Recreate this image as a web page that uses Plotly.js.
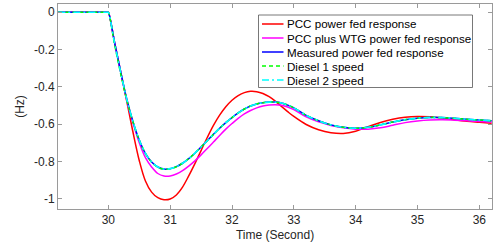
<!DOCTYPE html>
<html>
<head>
<meta charset="utf-8">
<script src="https://cdn.plot.ly/plotly-3.0.1.min.js"></script>
<style>html,body{margin:0;padding:0;background:#fff}#chart{width:493px;height:251px}</style>
</head>
<body>
<div id="chart"></div>
<script>
// ---- data ----
const time = [29.19, 29.99, 30.0, 30.1, 30.2, 30.3, 30.4, 30.5, 30.6, 30.7, 30.8, 30.9, 31.0, 31.1, 31.2, 31.3, 31.4, 31.5, 31.6, 31.7, 31.8, 31.9, 32.0, 32.1, 32.2, 32.3, 32.4, 32.5, 32.6, 32.7, 32.8, 32.9, 33.0, 33.2, 33.4, 33.6, 33.8, 34.0, 34.2, 34.4, 34.6, 34.8, 35.0, 35.2, 35.4, 35.6, 35.8, 36.0, 36.2];
const pccResponse = [0, 0, 0, -0.16, -0.32, -0.48, -0.645, -0.795, -0.905, -0.965, -0.995, -1.006, -1.002, -0.98, -0.938, -0.878, -0.812, -0.742, -0.672, -0.607, -0.552, -0.507, -0.472, -0.447, -0.431, -0.424, -0.426, -0.436, -0.453, -0.477, -0.505, -0.533, -0.559, -0.602, -0.63, -0.646, -0.65, -0.638, -0.614, -0.591, -0.574, -0.563, -0.559, -0.561, -0.567, -0.576, -0.584, -0.59, -0.596];
const pccWtgResponse = [0, 0, 0, -0.16, -0.32, -0.475, -0.595, -0.70, -0.78, -0.83, -0.865, -0.878, -0.878, -0.868, -0.85, -0.825, -0.797, -0.765, -0.731, -0.696, -0.661, -0.627, -0.597, -0.569, -0.545, -0.527, -0.513, -0.503, -0.498, -0.496, -0.499, -0.508, -0.522, -0.561, -0.588, -0.607, -0.62, -0.627, -0.627, -0.62, -0.606, -0.592, -0.583, -0.578, -0.577, -0.579, -0.582, -0.586, -0.589];
const measuredResponse = [0, 0, 0, -0.16, -0.32, -0.468, -0.588, -0.685, -0.757, -0.803, -0.83, -0.841, -0.839, -0.828, -0.81, -0.785, -0.756, -0.723, -0.689, -0.655, -0.622, -0.592, -0.565, -0.54, -0.519, -0.503, -0.492, -0.485, -0.482, -0.482, -0.487, -0.498, -0.513, -0.553, -0.582, -0.604, -0.617, -0.622, -0.617, -0.604, -0.589, -0.576, -0.568, -0.564, -0.565, -0.569, -0.574, -0.578, -0.582];
const diesel1Speed = [0, 0, 0, -0.17, -0.33, -0.472, -0.59, -0.686, -0.758, -0.804, -0.831, -0.842, -0.84, -0.829, -0.81, -0.785, -0.756, -0.723, -0.689, -0.655, -0.622, -0.592, -0.565, -0.54, -0.519, -0.503, -0.492, -0.485, -0.482, -0.482, -0.487, -0.498, -0.513, -0.553, -0.582, -0.604, -0.617, -0.622, -0.617, -0.604, -0.589, -0.576, -0.568, -0.564, -0.565, -0.569, -0.574, -0.578, -0.582];
const diesel2Speed = [0, 0, 0, -0.163, -0.322, -0.469, -0.588, -0.685, -0.757, -0.803, -0.83, -0.841, -0.839, -0.828, -0.81, -0.785, -0.756, -0.723, -0.689, -0.655, -0.622, -0.592, -0.565, -0.54, -0.519, -0.503, -0.492, -0.485, -0.482, -0.482, -0.487, -0.498, -0.513, -0.553, -0.582, -0.604, -0.617, -0.622, -0.617, -0.604, -0.589, -0.576, -0.568, -0.564, -0.565, -0.569, -0.574, -0.578, -0.582];
const seriesNames = ["PCC power fed response", "PCC plus WTG power fed response", "Measured power fed response", "Diesel 1 speed", "Diesel 2 speed"];
const xTickVals = [30, 31, 32, 33, 34, 35, 36];
const xTickText = ["30", "31", "32", "33", "34", "35", "36"];
const yTickVals = [0, -0.2, -0.4, -0.6, -0.8, -1];
const yTickText = ["0", "-0.2", "-0.4", "-0.6", "-0.8", "-1"];

// ---- styles ----
const seriesY = [pccResponse, pccWtgResponse, measuredResponse, diesel1Speed, diesel2Speed];
const colors = ["#ff0000", "#ff00ff", "#0000ff", "#00ff00", "#00ffff"];
const dashes = ["solid", "solid", "solid", "4px,3px", "7px,3px,2px,3px"];
const widths = [1.5, 1.5, 1.5, 1.5, 1.6];
const FONT = "Liberation Sans, Arial, Helvetica, sans-serif";

const traces = seriesY.map((y, i) => ({
  type: "scatter", mode: "lines", x: time, y: y, name: seriesNames[i],
  line: {color: colors[i], width: widths[i], dash: dashes[i], shape: "spline", smoothing: 1},
  showlegend: false, hoverinfo: "skip"
}));

// plot area in px: left 58, right 492, top 4, bottom 209
const L = 58, R = 492, T = 4, B = 209;
const px = v => (v - L) / (R - L);
const py = v => (B - v) / (B - T);

const shapes = [{
  type: "rect", xref: "paper", yref: "paper", layer: "above",
  x0: px(258.5), x1: px(472.5), y0: py(87.5), y1: py(15),
  fillcolor: "#ffffff", line: {color: "#555555", width: 0.8}
}];
const annotations = [];
const entryY = [24, 38, 52, 66, 80];
seriesNames.forEach((n, i) => {
  shapes.push({
    type: "line", xref: "paper", yref: "paper", layer: "above",
    x0: px(262), x1: px(283.5), y0: py(entryY[i]), y1: py(entryY[i]),
    line: {color: colors[i], width: 1.5, dash: dashes[i]}
  });
  annotations.push({
    xref: "paper", yref: "paper", x: px(284.5), y: py(entryY[i]),
    xanchor: "left", yanchor: "middle", showarrow: false, text: n,
    font: {family: FONT, size: 11.6, color: "#000000"}
  });
});

const layout = {
  width: 493, height: 251,
  margin: {l: L, r: 493 - R, t: T, b: 251 - B, pad: 0},
  paper_bgcolor: "#ffffff", plot_bgcolor: "#ffffff",
  font: {family: FONT, size: 12, color: "#262626"},
  showlegend: false,
  xaxis: {
    range: [29.186, 36.205], tickvals: xTickVals, ticktext: xTickText,
    ticks: "inside", ticklen: 4, tickcolor: "#9a9a9a", tickwidth: 1,
    showline: true, linecolor: "#9a9a9a", linewidth: 1, mirror: "ticks",
    showgrid: false, zeroline: false,
    tickfont: {family: FONT, size: 12, color: "#262626"},
    title: {text: "Time (Second)", font: {family: FONT, size: 12, color: "#262626"}, standoff: 4}
  },
  yaxis: {
    range: [-1.0555, 0.0445], tickvals: yTickVals, ticktext: yTickText,
    ticks: "inside", ticklen: 4, tickcolor: "#9a9a9a", tickwidth: 1,
    showline: true, linecolor: "#9a9a9a", linewidth: 1, mirror: "ticks",
    showgrid: false, zeroline: false, automargin: true,
    tickfont: {family: FONT, size: 12, color: "#262626"},
    title: {text: "(Hz)", font: {family: FONT, size: 12, color: "#262626"}, standoff: 6}
  },
  shapes: shapes,
  annotations: annotations
};

Plotly.newPlot("chart", traces, layout, {staticPlot: true, displayModeBar: false});
</script>
</body>
</html>
